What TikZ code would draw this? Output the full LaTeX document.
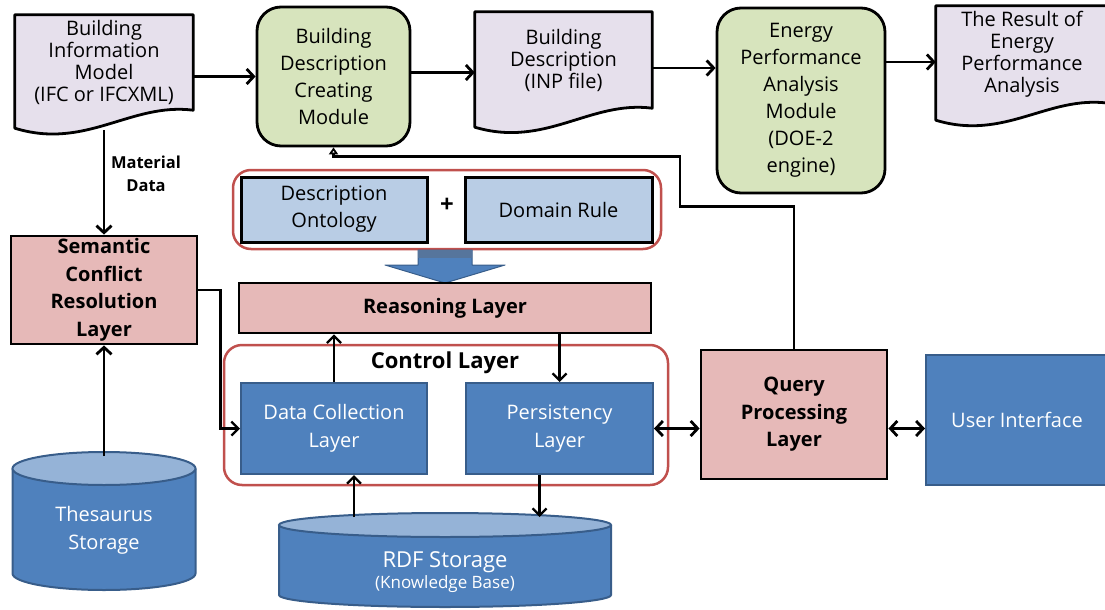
\documentclass[tikz,border=0pt]{standalone}
\usepackage{fontspec}
\setmainfont{Open Sans}
\usetikzlibrary{positioning, arrows.meta, calc, backgrounds}
\definecolor{docfill}{RGB}{230,224,236}
\definecolor{modfill}{RGB}{215,228,189}
\definecolor{layerfill}{RGB}{230,185,184}
\definecolor{ontofill}{RGB}{185,205,229}
\definecolor{boxblue}{RGB}{79,129,189}
\definecolor{edgeblue}{RGB}{56,93,138}
\definecolor{topblue}{RGB}{149,179,215}
\definecolor{groupred}{RGB}{192,80,77}

% document outline with wavy bottom: node, left drop, wave depth
\newcommand{\docoutline}[3]{%
  \begin{scope}[on background layer]
    \draw[line width=2.8pt, fill=docfill, line join=round]
      (#1.south east) -- (#1.north east) -- (#1.north west) -- ([yshift=-#2]#1.south west)
      .. controls ($(#1.south west)!0.4!(#1.south east)+(0,#3)$) and ($(#1.south west)!0.65!(#1.south east)+(0,-8)$) .. (#1.south east) -- cycle;
  \end{scope}}

% storage cylinder: name, cx, top y, rx, ry, bottom y
\newcommand{\storage}[6]{%
  \fill[boxblue] (#2-#4,#3) -- (#2-#4,#6) arc[start angle=180, end angle=0, x radius=#4, y radius=#5] -- (#2+#4,#3) -- cycle;
  \draw[edgeblue, line width=2pt] (#2-#4,#3) -- (#2-#4,#6) arc[start angle=180, end angle=0, x radius=#4, y radius=#5] -- (#2+#4,#3);
  \draw[edgeblue, line width=2pt, fill=topblue] (#2,#3) ellipse [x radius=#4, y radius=#5];
  \coordinate (#1top) at (#2,#3-#5+4);}

\tikzset{
  docnode/.style={inner sep=0pt, align=center, font=\fontsize{20}{22}\selectfont},
  module/.style={draw, line width=2.8pt, rounded corners=24pt, fill=modfill, align=center, inner sep=0pt, font=\fontsize{20}{27}\selectfont},
  layerbox/.style={draw, line width=2.8pt, fill=layerfill, align=center, inner sep=0pt, font=\bfseries\fontsize{20}{27.5}\selectfont},
  ontobox/.style={draw, line width=3pt, fill=ontofill, align=center, inner sep=0pt, font=\fontsize{20}{27}\selectfont},
  bluebox/.style={draw=edgeblue, line width=2pt, fill=boxblue, text=white, align=center, inner sep=0pt, font=\fontsize{20}{28}\selectfont},
  group/.style={draw=groupred, line width=2.5pt, rounded corners=18pt, inner sep=0pt},
  arr/.style={line width=2.8pt, -{Straight Barb[length=7pt,width=15pt]}},
  thinarr/.style={line width=2.3pt, -{Straight Barb[length=7pt,width=14pt]}},
  dblarr/.style={line width=2.8pt, {Straight Barb[length=7pt,width=15pt]}-{Straight Barb[length=7pt,width=15pt]}},
  fbarr/.style={line width=2.3pt, -{Triangle[open, length=7pt, width=9pt]}}
}

\begin{document}
\begin{tikzpicture}[x=1pt, y=-1pt]
  \useasboundingbox (0,0) rectangle (1105,610);

  % top row
  \node[docnode, minimum width=178pt, minimum height=95pt] (bim) at (104,62.5) {Building\\Information\\Model\\(IFC or IFCXML)};
  \docoutline{bim}{18pt}{40}
  \node[module, minimum width=153pt, minimum height=139pt] (bdcm) at (333.5,76.5) {Building\\Description\\Creating\\Module};
  \node[docnode, minimum width=177pt, minimum height=96pt] (inp) at (563.5,60) {Building\\Description\\(INP file)};
  \docoutline{inp}{19pt}{40}
  \node[module, minimum width=168pt, minimum height=185pt] (epam) at (801,100.5) {Energy\\Performance\\Analysis\\Module\\(DOE-2\\engine)};
  \node[docnode, minimum width=172pt, minimum height=97pt] (result) at (1022,54.5) {The Result of\\Energy\\Performance\\Analysis};
  \docoutline{result}{17pt}{38}

  \draw[arr] (bim.east |- bdcm.west) -- (bdcm.west);
  \coordinate (bdcmout) at ([yshift=4pt]bdcm.east);
  \draw[arr] (bdcmout) -- (bdcmout -| inp.west);
  \coordinate (inpout) at ([yshift=-8pt]inp.east);
  \draw[arr] (inpout) -- (inpout -| epam.west);
  \coordinate (resin) at ([yshift=-7.5pt]result.west);
  \draw[arr] (resin -| epam.east) -- (resin);

  % left column
  \node[layerbox, minimum width=186pt, minimum height=108pt] (scrl) at (104,290) {Semantic\\Conflict\\Resolution\\Layer};
  \draw[arr] ([yshift=-20pt]bim.south) -- (scrl.north);
  \node[font=\bfseries\fontsize{16.5}{23}\selectfont, align=center] (matlabel) at (146,174) {Material\\Data};
  \storage{thes}{104}{468.5}{91.5}{16.5}{573.5}
  \node[text=white, align=center, font=\fontsize{20}{28}\selectfont] (thes) at (104,530) {Thesaurus\\Storage};
  \draw[arr] (thestop) -- (scrl.south);

  % ontology and reasoning
  \node[group, minimum width=428pt, minimum height=79pt] (ontogroup) at (447,209.5) {};
  \node[ontobox, minimum width=186pt, minimum height=65pt] (desc) at (334,209.5) {Description\\Ontology};
  \node[ontobox, minimum width=187pt, minimum height=65pt] (rule) at (558.5,209.5) {Domain Rule};
  \node[font=\bfseries\fontsize{24}{24}\selectfont] (plus) at (447,205) {+};
  \draw[fill=boxblue, draw=edgeblue, line width=1pt, line join=round]
    (418,250) -- (472,250) -- (472,265) -- (505,265) -- (445,283) -- (385,265) -- (418,265) -- cycle;
  \fill[edgeblue!85] (418,250) rectangle (472,258);
  \node[layerbox, minimum width=412pt, minimum height=50pt] (reason) at (445,308) {Reasoning Layer};

  % control layer
  \node[group, minimum width=444pt, minimum height=140pt] (ctl) at (446,415) {};
  \node[font=\bfseries\fontsize{22}{22}\selectfont] (ctltitle) at (445,363) {Control Layer};
  \node[bluebox, minimum width=186pt, minimum height=91pt] (dcl) at (334,428.5) {Data Collection\\Layer};
  \node[bluebox, minimum width=187pt, minimum height=91pt] (pers) at (559.5,428.5) {Persistency\\Layer};
  \draw[thinarr] (dcl.north) -- (dcl.north |- reason.south);
  \draw[thinarr] (pers.north |- reason.south) -- (pers.north);
  \draw[thinarr] (scrl.east) -- ++(22,0) |- (dcl.west);

  % storage
  \storage{rdf}{445}{525}{166}{12}{595}
  \node[text=white, align=center] (rdf) at (445,572) {\fontsize{22}{27}\selectfont RDF Storage\\[1pt]\fontsize{17}{22}\selectfont (Knowledge Base)};
  \coordinate (dclin) at ([xshift=20pt]dcl.south);
  \coordinate (persout) at ([xshift=-20pt]pers.south);
  \draw[thinarr] (dclin |- rdftop) -- (dclin);
  \draw[thinarr] (persout) -- (persout |- rdftop);

  % query and user interface
  \node[layerbox, minimum width=186pt, minimum height=129pt] (qpl) at (794,414.5) {Query\\Processing\\Layer};
  \node[bluebox, minimum width=182pt, minimum height=130pt] (ui) at (1017,420) {User Interface};
  \draw[dblarr] (pers.east) -- (pers.east -| qpl.west);
  \draw[dblarr] (qpl.east |- pers.east) -- (ui.west |- pers.east);
  \draw[fbarr] (qpl.north) -- ++(0,-142) -| ++(-114,-50) -| (bdcm.south);
\end{tikzpicture}
\end{document}
